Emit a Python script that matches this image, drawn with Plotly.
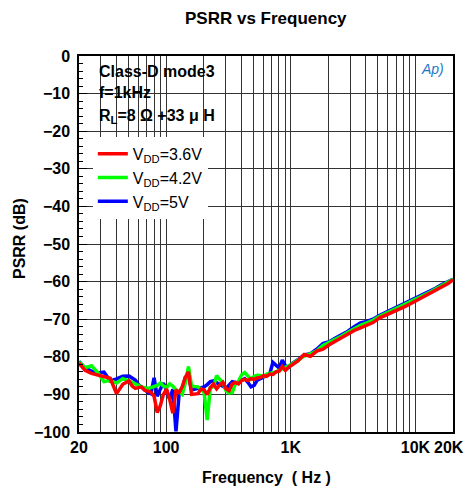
import plotly.graph_objects as go

# frequency points (Hz)
FREQ = [20, 22.4, 25.2, 28.3, 31.7, 35.6, 40, 44.9, 50.4,
        53.4, 56.6, 59.9, 63.5, 67.3, 71.3, 75.5, 80, 84.8, 89.8, 95.1, 100.8,
        106.8, 113.1, 119.9, 127, 134.5, 142.5, 151, 160, 169.5, 179.6, 190.3,
        201.6, 213.6, 226.3, 239.7, 254, 269.1, 285.1, 302, 320, 339, 359.2,
        380.5, 403.2,
        427.1, 452.5, 479.4, 508, 538.2, 570.2, 604.1, 640, 678.1, 718.4, 761.1,
        806.3, 854.3, 905.1, 958.9, 1016,
        1140, 1280, 1437, 1613, 1810, 2032, 2281, 2560, 2874, 3225, 3620, 4064,
        4561, 5120, 5747, 6451, 7241, 8127, 9123, 10240, 11494, 12902, 14482,
        16255, 18246, 20000]

PSRR_36V = [-81.7, -83.6, -84.4, -84.8, -85.1, -85.7, -89.8, -87.3, -86.4,
            -87.8, -88.4, -88.2, -88.0, -88.9, -89.2, -89.4, -90.5, -94.8, -93.0,
            -90.0, -88.6, -91.3, -95.0, -88.8, -89.5, -88.0, -85.5, -84.0, -90.0,
            -89.8, -89.8, -88.6, -88.8, -90.0, -88.2, -87.2, -88.5, -87.5, -86.8,
            -88.5, -89.0, -87.2, -86.8, -87.2, -86.3,
            -86.0, -86.3, -85.8, -86.0, -85.6, -85.5, -85.0, -85.2, -84.6, -84.7,
            -84.0, -83.8, -82.6, -83.6, -82.8, -82.2,
            -81.1, -79.4, -79.9, -78.5, -78.0, -76.8, -75.8, -75.0, -73.9, -73.0,
            -72.3, -71.6, -70.9, -69.7, -69.0, -68.3, -67.6, -66.7, -65.9, -65.0,
            -64.2, -63.3, -62.5, -61.4, -60.5, -59.5]

PSRR_42V = [-81.4, -82.9, -82.4, -84.2, -86.6, -86.3, -87.0, -85.8, -86.4,
            -86.8, -87.3, -87.6, -88.0, -88.2, -88.4, -88.2, -88.0, -87.6, -87.0,
            -87.8, -88.2, -87.2, -87.8, -88.8, -89.3, -90.0, -87.0, -82.6, -87.8,
            -88.0, -88.0, -88.5, -89.5, -96.8, -88.2, -88.0, -85.0, -86.0, -86.8,
            -89.0, -89.6, -89.5, -87.2, -86.5, -84.8,
            -84.2, -85.2, -86.0, -85.2, -84.9, -85.0, -85.2, -84.6, -84.3, -84.2,
            -84.0, -83.6, -83.1, -82.8, -82.5, -82.0,
            -80.9, -79.8, -79.2, -78.4, -77.0, -76.2, -75.4, -74.5, -73.5, -72.5,
            -71.6, -71.0, -70.3, -69.3, -68.5, -67.8, -67.0, -66.3, -65.5, -64.6,
            -63.8, -62.9, -62.0, -61.0, -60.2, -59.4]

PSRR_5V = [-81.2, -83.0, -83.8, -84.3, -84.1, -86.4, -85.9, -85.2, -85.1,
           -85.6, -86.2, -87.4, -88.2, -88.8, -89.4, -89.8, -85.6, -90.5, -88.6,
           -87.0, -89.0, -91.3, -88.6, -99.8, -90.0, -88.6, -85.5, -85.0, -88.8,
           -88.6, -88.4, -88.2, -88.0, -87.4, -86.6, -86.4, -86.8, -87.2, -87.8,
           -88.4, -87.4, -86.6, -86.8, -87.0, -86.2,
           -85.8, -86.8, -88.0, -87.6, -86.2, -85.8, -85.3, -85.0, -84.5, -81.5,
           -82.3, -83.0, -80.9, -82.4, -82.8, -81.9,
           -80.8, -79.5, -79.2, -78.0, -76.5, -76.0, -75.0, -74.2, -73.2, -72.0,
           -71.0, -70.6, -70.0, -69.0, -68.2, -67.5, -66.8, -66.0, -65.2, -64.3,
           -63.5, -62.7, -61.8, -60.8, -60.0, -59.4]

X_TICKS = [20, 100, 1000, 10000, 20000]
X_LABELS = ["20", "100", "1K", "10K", ""]   # 20K is placed by hand, it would clip at the edge
X_GRID = [m * 10 ** e for e in (1, 2, 3, 4) for m in range(1, 10)
          if 20 <= m * 10 ** e <= 20000]

FONT = "Liberation Sans, Arial, sans-serif"

fig = go.Figure()

# drawn blue first so red ends up on top, legend reversed
for name, vals, color in [
    ("V<sub>DD</sub>=5V", PSRR_5V, "#0000ff"),
    ("V<sub>DD</sub>=4.2V", PSRR_42V, "#00ff00"),
    ("V<sub>DD</sub>=3.6V", PSRR_36V, "#ff0000"),
]:
    fig.add_trace(go.Scatter(
        x=FREQ, y=vals, name=name, mode="lines",
        line=dict(color=color, width=3.5),
    ))

fig.update_xaxes(
    type="log",
    range=[1.30103, 4.30103],
    tickvals=X_TICKS,
    ticktext=X_LABELS,
    ticks="",
    showgrid=False,
    minor=dict(tickvals=X_GRID, showgrid=True, gridcolor="#333", gridwidth=1.2, ticks=""),
    showline=True, linecolor="black", linewidth=1.5, mirror=True,
    tickfont=dict(size=16, color="black", family=FONT, weight="bold"),
    ticklabelstandoff=0,
)
fig.update_yaxes(
    range=[-100, 0],
    dtick=10,
    ticks="inside", ticklen=8, tickcolor="black",
    showgrid=True, gridcolor="#333", gridwidth=1.2,
    minor=dict(dtick=2, ticks="inside", ticklen=4, tickcolor="black", showgrid=False),
    showline=True, linecolor="black", linewidth=1.5, mirror=True,
    zeroline=False,
    tickfont=dict(size=16, color="black", family=FONT, weight="bold"),
    ticklabelstandoff=4,
)

# white box behind the test conditions
fig.add_shape(type="rect", xref="paper", yref="paper",
              x0=0, x1=0.43, y0=0.8, y1=1,
              fillcolor="white", line_width=0, layer="between")

cond_lines = ["Class-D mode3", "f=1kHz", "R<sub>L</sub>=8 Ω +33 μ H"]
for txt, yy in zip(cond_lines, [0.960, 0.902, 0.840]):
    fig.add_annotation(text=f"<b>{txt}</b>", xref="paper", yref="paper",
                       x=0.047, y=yy, xanchor="left", yanchor="middle",
                       showarrow=False,
                       font=dict(size=16, color="black", family=FONT))

fig.add_annotation(text="<b>20K</b>", xref="paper", yref="paper",
                   x=0.9885, y=-0.0425, xanchor="center", yanchor="middle",
                   showarrow=False, font=dict(size=16, color="black", family=FONT))
fig.add_annotation(text="<b>PSRR vs Frequency</b>", xref="paper", yref="paper",
                   x=0.5, y=1 + 38 / 376, xanchor="center", yanchor="middle",
                   showarrow=False, font=dict(size=17, color="black", family=FONT))
fig.add_annotation(text="<b>Frequency  ( Hz )</b>", xref="paper", yref="paper",
                   x=0.5, y=-0.1215, xanchor="center", yanchor="middle",
                   showarrow=False, font=dict(size=16, color="black", family=FONT))
fig.add_annotation(text="<b>PSRR (dB)</b>", xref="paper", yref="paper",
                   x=-0.1586, y=0.515, xanchor="center", yanchor="middle",
                   textangle=-90, showarrow=False,
                   font=dict(size=16, color="black", family=FONT))
fig.add_annotation(text="<i>Ap)</i>", xref="paper", yref="paper",
                   x=0.945, y=0.965, xanchor="center", yanchor="middle",
                   showarrow=False, font=dict(size=14, color="#1f78c8", family=FONT))

fig.update_layout(
    width=468, height=487,
    margin=dict(l=79, r=15, t=56, b=55),
    paper_bgcolor="white", plot_bgcolor="white",
    font=dict(family=FONT, color="black"),
    showlegend=True,
    legend=dict(
        x=0.037, y=0.785, xanchor="left", yanchor="top",
        bgcolor="white", borderwidth=0,
        traceorder="reversed",
        font=dict(size=16, color="black", family=FONT),
        itemwidth=30,
    ),
)

fig.write_html("out.html", config={"displayModeBar": False},
               post_script="document.body.style.margin='0';")
